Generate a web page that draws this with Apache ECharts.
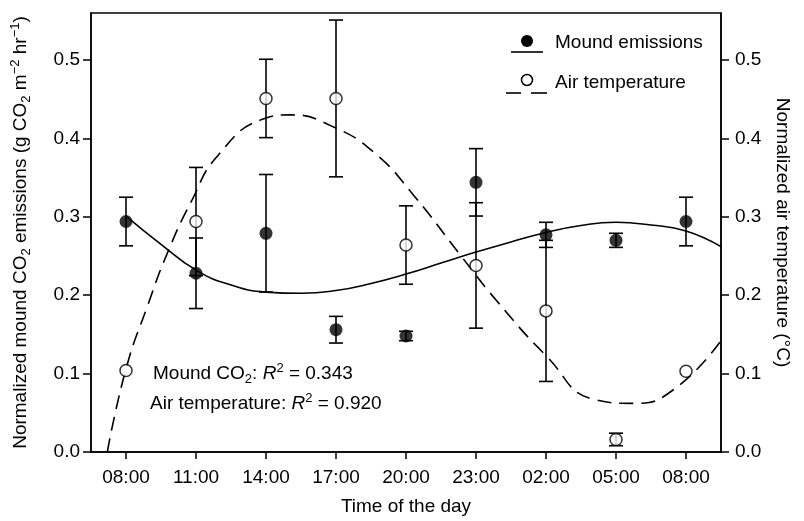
<!DOCTYPE html>
<html>
<head>
<meta charset="utf-8">
<script src="https://cdn.jsdelivr.net/npm/echarts@6/dist/echarts.min.js"></script>
<style>html,body{margin:0;padding:0;background:#fff;}#c{width:804px;height:521px;}</style>
</head>
<body>
<div id="c"></div>
<script>
// ---- data ----
var hours = [8, 11, 14, 17, 20, 23, 26, 29, 32];
var timeLabels = ['08:00', '11:00', '14:00', '17:00', '20:00', '23:00', '02:00', '05:00', '08:00'];
var yTicks = [0, 0.1, 0.2, 0.3, 0.4, 0.5];
var moundMean = [0.294, 0.228, 0.279, 0.156, 0.148, 0.344, 0.277, 0.270, 0.294];
var moundErr  = [0.031, 0.045, 0.075, 0.017, 0.006, 0.043, 0.016, 0.009, 0.031];
var tempMean  = [0.104, 0.294, 0.451, 0.451, 0.264, 0.238, 0.180, 0.016, 0.103];
var tempErr   = [0, 0.069, 0.050, 0.100, 0.050, 0.080, 0.090, 0.008, 0];
var moundFitHours  = [8, 9.5, 11, 12.5, 14, 15.5, 17, 18.5, 20, 21.5, 23, 24.5, 26, 27.5, 29, 30.5, 32, 33.5];
var moundFitValues = [0.301, 0.265, 0.232, 0.213, 0.204, 0.2025, 0.206, 0.215, 0.227, 0.241, 0.255, 0.268, 0.280, 0.289, 0.293, 0.2895, 0.282, 0.262];
var tempFitHours  = [7.2, 8.0, 8.93, 9.79, 10.79, 11.93, 13.91, 15.07, 16.79, 18.63, 20.34, 22.36, 23.94, 26.0, 28.06, 29.77, 31.49, 33.5];
var tempFitValues = [0, 0.106, 0.187, 0.255, 0.319, 0.378, 0.425, 0.430, 0.416, 0.382, 0.327, 0.250, 0.191, 0.123, 0.067, 0.062, 0.080, 0.142];

var FONT = '"Liberation Sans", Arial, sans-serif';
var FS = 19;
var rich = {
  a: {fontSize: FS, fontFamily: FONT, color: '#000', lineHeight: 24},
  i: {fontSize: FS, fontFamily: FONT, color: '#000', fontStyle: 'italic', lineHeight: 24},
  sub: {fontSize: 13, fontFamily: FONT, color: '#000', lineHeight: 13, verticalAlign: 'bottom'},
  sup: {fontSize: 13, fontFamily: FONT, color: '#000', lineHeight: 13, verticalAlign: 'top'}
};

function zip(a, b) { return a.map(function (v, i) { return [v, b[i]]; }); }
function zip3(a, b, c) { return a.map(function (v, i) { return [v, b[i], c[i]]; }); }

function errRender(params, api) {
  var x = api.value(0), y = api.value(1), e = api.value(2);
  if (!e) return null;
  var t = api.coord([x, y + e]);
  var b = api.coord([x, y - e]);
  var w = 7;
  var st = {stroke: '#000', lineWidth: 1.6};
  return {
    type: 'group',
    children: [
      {type: 'line', shape: {x1: t[0], y1: t[1], x2: b[0], y2: b[1]}, style: st},
      {type: 'line', shape: {x1: t[0] - w, y1: t[1], x2: t[0] + w, y2: t[1]}, style: st},
      {type: 'line', shape: {x1: b[0] - w, y1: b[1], x2: b[0] + w, y2: b[1]}, style: st}
    ]
  };
}

var axisLineStyle = {color: '#000', width: 1.5};
function yAxisCfg(pos, name, rot, gap) {
  return {
    type: 'value', position: pos, min: 0, max: 0.56,
    name: name, nameLocation: 'middle', nameRotate: rot, nameGap: gap,
    nameTextStyle: {rich: rich, fontSize: FS, fontFamily: FONT, color: '#000'},
    axisLine: {show: true, lineStyle: axisLineStyle},
    axisTick: {show: true, inside: false, length: 8, lineStyle: axisLineStyle, customValues: yTicks},
    axisLabel: {customValues: yTicks, margin: pos === 'left' ? 11 : 14, fontSize: FS, fontFamily: FONT, color: '#000',
      formatter: function (v) { return v.toFixed(1); }},
    splitLine: {show: false}
  };
}

var chart = echarts.init(document.getElementById('c'), null, {renderer: 'canvas'});
chart.setOption({
  animation: false,
  backgroundColor: '#fff',
  grid: {left: 91, right: 83, top: 13, bottom: 68, show: true, borderColor: '#000', borderWidth: 1.5, backgroundColor: 'transparent'},
  xAxis: {
    type: 'value', min: 6.5, max: 33.5,
    name: 'Time of the day', nameLocation: 'middle', nameGap: 45,
    nameTextStyle: {fontSize: FS, fontFamily: FONT, color: '#000'},
    axisLine: {show: true, lineStyle: axisLineStyle},
    axisTick: {show: true, inside: false, length: 7, lineStyle: axisLineStyle, customValues: hours},
    axisLabel: {customValues: hours, margin: 16, fontSize: FS, fontFamily: FONT, color: '#000',
      formatter: function (v) { var k = hours.indexOf(v); return k >= 0 ? timeLabels[k] : ''; }},
    splitLine: {show: false}
  },
  yAxis: [
    yAxisCfg('left', '{a|Normalized mound CO}{sub|2}{a| emissions (g CO}{sub|2}{a| m}{sup|−2}{a| hr}{sup|−1}{a|)}', 90, 58),
    yAxisCfg('right', 'Normalized air temperature (°C)', -90, 52)
  ],
  graphic: [
    {type: 'circle', shape: {cx: 527, cy: 41, r: 6}, style: {fill: '#000'}, z: 100},
    {type: 'line', shape: {x1: 511, y1: 52, x2: 543, y2: 52}, style: {stroke: '#000', lineWidth: 1.6}, z: 100},
    {type: 'text', style: {x: 555, y: 43, text: 'Mound emissions', font: FS + 'px ' + FONT, fill: '#000', verticalAlign: 'middle'}, z: 100},
    {type: 'circle', shape: {cx: 527, cy: 80, r: 5.5}, style: {fill: '#fff', stroke: '#000', lineWidth: 1.5}, z: 100},
    {type: 'line', shape: {x1: 506, y1: 93, x2: 521, y2: 93}, style: {stroke: '#000', lineWidth: 1.6}, z: 100},
    {type: 'line', shape: {x1: 531, y1: 93, x2: 547, y2: 93}, style: {stroke: '#000', lineWidth: 1.6}, z: 100},
    {type: 'text', style: {x: 555, y: 83, text: 'Air temperature', font: FS + 'px ' + FONT, fill: '#000', verticalAlign: 'middle'}, z: 100},
    {type: 'text', style: {x: 153, y: 374, text: '{a|Mound CO}{sub|2}{a|: }{i|R}{sup|2}{a| = 0.343}', rich: rich, verticalAlign: 'middle'}, z: 100},
    {type: 'text', style: {x: 150, y: 404, text: '{a|Air temperature: }{i|R}{sup|2}{a| = 0.920}', rich: rich, verticalAlign: 'middle'}, z: 100}
  ],
  series: [
    {type: 'line', data: zip(moundFitHours, moundFitValues), smooth: true, showSymbol: false, symbol: 'none',
      lineStyle: {color: '#000', width: 1.6}, clip: true, z: 2},
    {type: 'line', yAxisIndex: 1, data: zip(tempFitHours, tempFitValues), smooth: true, showSymbol: false, symbol: 'none',
      lineStyle: {color: '#000', width: 1.6, type: [14, 8]}, clip: true, z: 2},
    {type: 'custom', renderItem: errRender, data: zip3(hours, moundMean, moundErr), z: 3},
    {type: 'custom', yAxisIndex: 1, renderItem: errRender, data: zip3(hours, tempMean, tempErr), z: 3},
    {type: 'scatter', data: zip(hours, moundMean), symbol: 'circle', symbolSize: 13,
      itemStyle: {color: '#000'}, z: 5},
    {type: 'scatter', yAxisIndex: 1, data: zip(hours, tempMean), symbol: 'circle', symbolSize: 12,
      itemStyle: {color: '#fff', borderColor: '#000', borderWidth: 1.5}, z: 5}
  ]
});
</script>
</body>
</html>
